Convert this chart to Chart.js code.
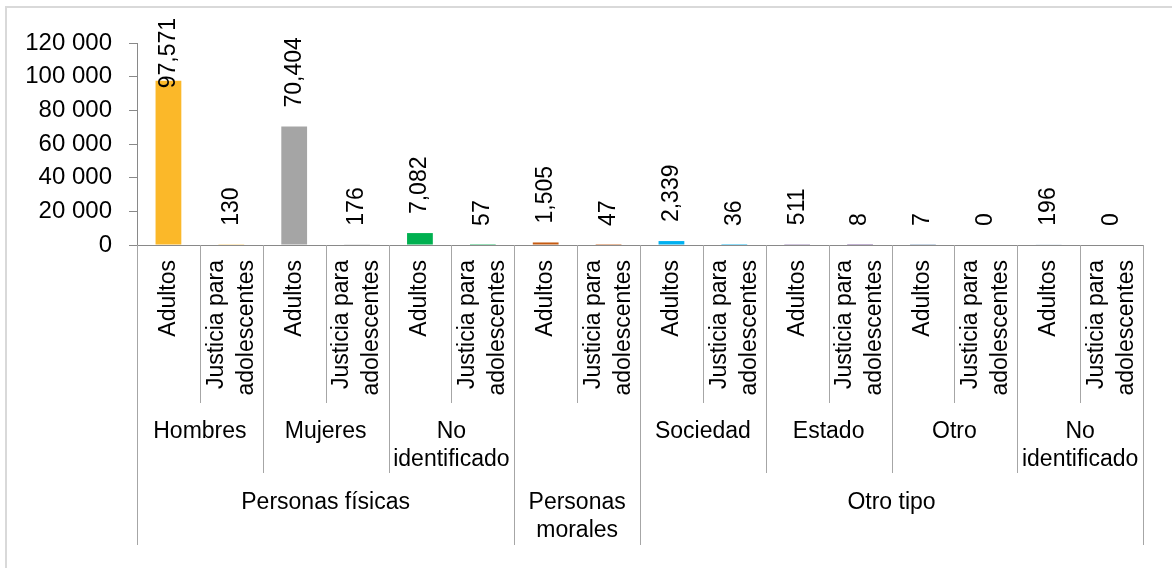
<!DOCTYPE html>
<html>
<head>
<meta charset="utf-8">
<script src="https://cdn.jsdelivr.net/npm/chart.js@4"></script>
<style>
  body { margin: 0; background: #fff; }
  canvas { display: block; }
</style>
</head>
<body>
<canvas id="myChart" width="1172" height="568"></canvas>
<script>
// datos
var grupos = [["Personas físicas"], ["Personas", "morales"], ["Otro tipo"]];
var grupoSpan = [6, 2, 8];   // categorias por grupo
var subgrupos = [["Hombres"], ["Mujeres"], ["No", "identificado"], [""],
                 ["Sociedad"], ["Estado"], ["Otro"], ["No", "identificado"]];
var tipos = [["Adultos"], ["Justicia para", "adolescentes"]];
var valores = [97571, 130, 70404, 176, 7082, 57, 1505, 47,
               2339, 36, 511, 8, 7, 0, 196, 0];
var yTicks = [0, 20000, 40000, 60000, 80000, 100000, 120000];

var colores = ["#FBB829", "#A5A5A5", "#00B050", "#C55A11",
               "#00B0F0", "#7F60A0", "#8EA9C8", "#9DB5D0"];

var fuente = 'Arial, "Liberation Sans", sans-serif';
var lineaCol = "#A6A6A6";

var xLabels = [];
var barColors = [];
for (var s = 0; s < subgrupos.length; s++) {
  for (var t = 0; t < tipos.length; t++) {
    xLabels.push(subgrupos[s].join(" ") + " - " + tipos[t].join(" "));
    barColors.push(colores[s]);
  }
}

var marco = {
  id: "marco",
  beforeDraw: function(chart) {
    var c = chart.ctx;
    c.save();
    c.strokeStyle = "#D9D9D9";
    c.lineWidth = 2;
    c.beginPath();
    c.moveTo(6, 568); c.lineTo(6, 7); c.lineTo(1172, 7);
    c.stroke();
    c.restore();
  }
};

var etiquetas = {
  id: "etiquetas",
  afterDatasetsDraw: function(chart) {
    var c = chart.ctx;
    var meta = chart.getDatasetMeta(0);
    c.save();
    c.fillStyle = "#000";
    c.font = "23px " + fuente;
    c.textAlign = "left";
    c.textBaseline = "middle";
    meta.data.forEach(function(bar, i) {
      var txt = valores[i].toLocaleString("en-US");
      var w = c.measureText(txt).width;
      var start = bar.y - 19;
      if (start - w < 18) start = 18 + w;
      c.save();
      c.translate(bar.x, start);
      c.rotate(-Math.PI / 2);
      c.fillText(txt, 0, 0);
      c.restore();
    });
    c.restore();
  },
  afterDraw: function(chart) {
    var c = chart.ctx;
    var xs = chart.scales.x;
    var n = valores.length;
    var w = (xs.right - xs.left) / n;
    var top = xs.top;
    var fin1 = top + 158, fin2 = top + 228, fin3 = top + 300;
    var bordes = [0];
    grupoSpan.reduce(function(a, b) { bordes.push(a + b); return a + b; }, 0);

    c.save();
    c.strokeStyle = lineaCol;
    c.lineWidth = 1;
    for (var k = 0; k <= n; k++) {
      var px = Math.round(xs.left + k * w) + 0.5;
      var fin = bordes.indexOf(k) >= 0 ? fin3 : (k % 2 === 0 ? fin2 : fin1);
      c.beginPath();
      c.moveTo(px, top);
      c.lineTo(px, fin);
      c.stroke();
    }

    c.fillStyle = "#000";
    c.font = "23px " + fuente;

    // nivel 1: tipos, rotados
    c.textAlign = "right";
    c.textBaseline = "middle";
    for (var i = 0; i < n; i++) {
      var cx = xs.getPixelForValue(i);
      var lineas = tipos[i % 2];
      var lh = 30;
      c.save();
      c.translate(cx, top + 15);
      c.rotate(-Math.PI / 2);
      lineas.forEach(function(l, j) {
        c.fillText(l, 0, (j - (lineas.length - 1) / 2) * lh);
      });
      c.restore();
    }

    // nivel 2: subgrupos
    c.textAlign = "center";
    for (var s = 0; s < subgrupos.length; s++) {
      var cx2 = xs.left + (s * 2 + 1) * w;
      subgrupos[s].forEach(function(l, j) {
        c.fillText(l, cx2, top + 187 + j * 28);
      });
    }

    // nivel 3: grupos
    for (var g = 0; g < grupos.length; g++) {
      var cx3 = xs.left + (bordes[g] + grupoSpan[g] / 2) * w;
      grupos[g].forEach(function(l, j) {
        c.fillText(l, cx3, top + 258 + j * 28);
      });
    }
    c.restore();
  }
};

new Chart("myChart", {
  type: "bar",
  data: {
    labels: xLabels,
    datasets: [{
      data: valores,
      backgroundColor: barColors,
      categoryPercentage: 1,
      barPercentage: 0.41
    }]
  },
  options: {
    responsive: false,
    animation: false,
    layout: { padding: { left: 0, top: 43, right: 29, bottom: 0 } },
    plugins: {
      legend: { display: false },
      title: { display: false },
      tooltip: { enabled: false }
    },
    scales: {
      x: {
        afterFit: function(s) { s.height = 323; },
        grid: { display: false },
        border: { display: true, color: "#898989" },
        ticks: { display: false }
      },
      y: {
        min: 0,
        max: 120000,
        afterFit: function(s) { s.width = 137; },
        afterBuildTicks: function(s) {
          s.ticks = yTicks.map(function(v) { return { value: v }; });
        },
        grid: { drawOnChartArea: false, drawTicks: true, tickLength: 8, color: "#898989" },
        border: { display: true, color: "#898989" },
        ticks: {
          padding: 17,
          color: "#000",
          font: { family: fuente, size: 24 },
          callback: function(v) { return v.toLocaleString("en-US").replace(/,/g, " "); }
        }
      }
    }
  },
  plugins: [marco, etiquetas]
});
</script>
</body>
</html>
